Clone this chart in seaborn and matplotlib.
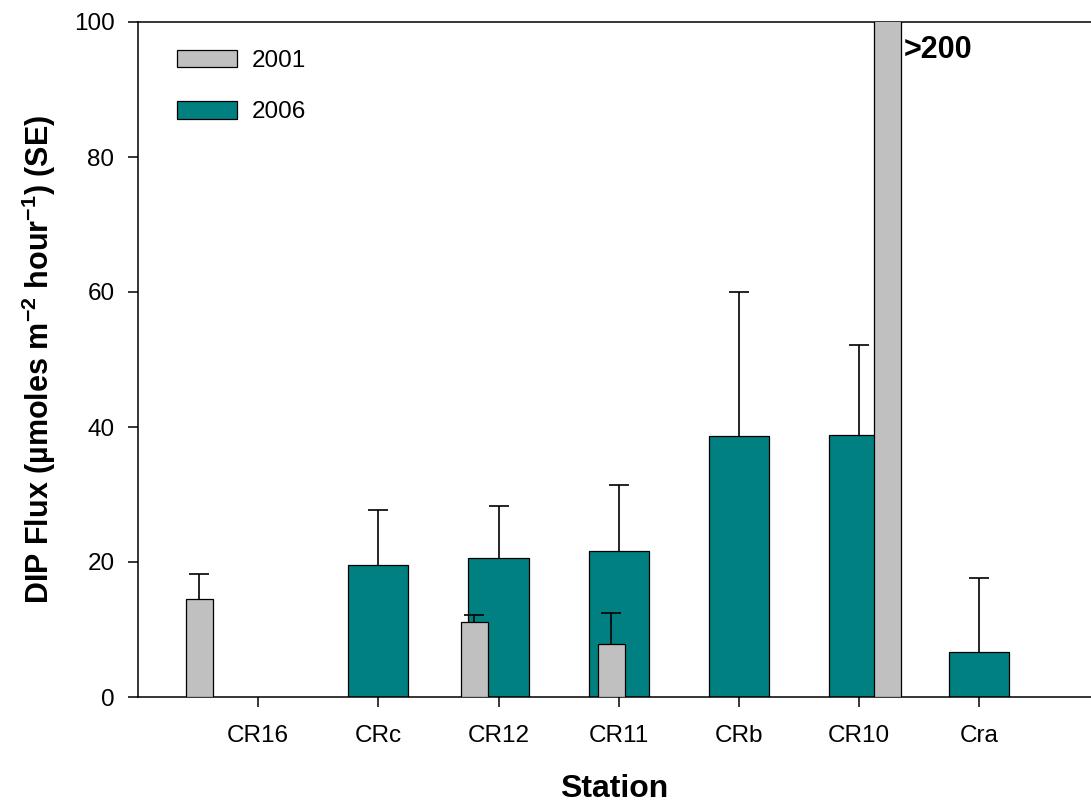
import matplotlib
matplotlib.use("Agg")
import matplotlib.pyplot as plt
import seaborn as sns
import numpy as np
import pandas as pd
from matplotlib.patches import Patch

# ---------------- data ----------------
stations = ["CR16", "CRc", "CR12", "CR11", "CRb", "CR10", "Cra"]

# 2006 survey (teal bars, at the station ticks)
stations_2006 = ["CRc", "CR12", "CR11", "CRb", "CR10", "Cra"]
flux_2006 = [19.6, 20.6, 21.7, 38.6, 38.8, 6.6]
se_2006 = [8.1, 7.7, 9.7, 21.4, 13.3, 11.0]

# 2001 survey (grey bars, located along the station axis)
pos_2001 = [-0.49, 1.80, 2.94, 5.24]
flux_2001 = [14.5, 11.1, 7.8, 210.0]
se_2001 = [3.7, 1.1, 4.7, np.nan]

years = ["2001", "2006"]
colors = {"2001": "#C0C0C0", "2006": "#008080"}

# ---------------- style ----------------
sns.set_theme(style="ticks")
plt.rcParams["font.family"] = ["Liberation Sans", "DejaVu Sans"]
plt.rcParams["mathtext.fontset"] = "custom"
plt.rcParams["mathtext.rm"] = "Liberation Sans:bold"
plt.rcParams["mathtext.bf"] = "Liberation Sans:bold"
plt.rcParams["mathtext.default"] = "bf"
for key in ["text.color", "axes.labelcolor", "xtick.color", "ytick.color",
            "axes.edgecolor"]:
    plt.rcParams[key] = "black"

fig = plt.figure(figsize=(10.91, 8.06), dpi=100)
ax = fig.add_axes([138 / 1091, 109 / 806, 953 / 1091, 675 / 806])

pos_2006 = [stations.index(s) for s in stations_2006]
df06 = pd.DataFrame({"pos": pos_2006, "flux": flux_2006})
df01 = pd.DataFrame({"pos": pos_2001, "flux": flux_2001})

sns.barplot(data=df06, x="pos", y="flux", native_scale=True, width=0.5,
            color=colors["2006"], saturation=1, edgecolor="black",
            linewidth=0.9, errorbar=None, ax=ax, zorder=2)
n06 = len(ax.patches)
min_gap = np.min(np.diff(np.sort(pos_2001)))
sns.barplot(data=df01, x="pos", y="flux", native_scale=True,
            width=0.225 / min_gap,
            color=colors["2001"], saturation=1, edgecolor="black",
            linewidth=0.9, errorbar=None, ax=ax, zorder=3)
for p in ax.patches[n06:]:
    p.set_zorder(3)

# upper-only error bars (SE)
for xs, ys, ses in [(pos_2006, flux_2006, se_2006),
                    (pos_2001, flux_2001, se_2001)]:
    eb = ax.errorbar(xs, ys, yerr=[np.zeros(len(ses)), ses],
                     fmt="none", ecolor="black", elinewidth=1.2,
                     capsize=7.2, capthick=1.2, zorder=4)
    eb[1][0].set_visible(False)   # no lower cap

ax.set_xlim(-1, 6.93)
ax.set_ylim(0, 100)
ax.set_xticks(range(len(stations)))
ax.set_xticklabels(stations)
ax.set_yticks(np.arange(0, 101, 20))

ax.tick_params(direction="out", length=7, width=1.1, labelsize=17.5,
               colors="black")
ax.tick_params(axis="x", pad=13.5)
ax.tick_params(axis="y", pad=10)
for side in ["left", "bottom", "top"]:
    ax.spines[side].set_linewidth(1.1)
    ax.spines[side].set_color("black")
ax.spines["right"].set_visible(False)

ax.set_xlabel("Station", fontsize=23, fontweight="bold", labelpad=19)
ax.set_ylabel("DIP Flux (\u00b5moles m$^{-2}$ hour$^{-1}$) (SE)",
              fontsize=22, fontweight="bold", labelpad=11)

ax.text(5.37, 94.7, ">200", fontsize=22, fontweight="bold",
        ha="left", va="baseline")

handles = [Patch(facecolor=colors[y], edgecolor="black", linewidth=0.9)
           for y in years]
ax.legend(handles, years, loc="upper left", bbox_to_anchor=(0.041, 0.959),
          frameon=False, fontsize=17.5, handlelength=2.47, handleheight=0.74,
          handletextpad=0.6, labelspacing=1.19, borderpad=0,
          borderaxespad=0)

fig.savefig("out.png", dpi=100)
